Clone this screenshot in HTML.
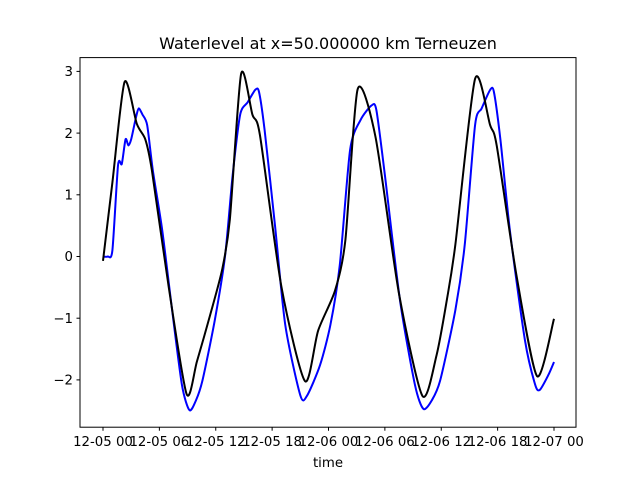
<!DOCTYPE html>
<html><head><meta charset="utf-8"><style>
body{margin:0;background:#fff}
svg{font-family:"DejaVu Sans","Liberation Sans",sans-serif}
</style></head><body>
<svg id="chart" width="640" height="480" viewBox="0 0 640 480" xmlns="http://www.w3.org/2000/svg">
<rect width="640" height="480" fill="#fff"/>
<text x="328" y="49" font-size="16" text-anchor="middle">Waterlevel at x=50.000000 km Terneuzen</text>
<g id="plot"></g>
<rect x="80" y="57.6" width="496" height="369.6" fill="none" stroke="#000" stroke-width="1"/>
<text x="328" y="467" font-size="13.3" text-anchor="middle">time</text>
</svg>
<script>
const xTickLabels=["12-05 00","12-05 06","12-05 12","12-05 18","12-06 00","12-06 06","12-06 12","12-06 18","12-07 00"];
const xTickHours=[0,6,12,18,24,30,36,42,48];
const yTicks=[-2,-1,0,1,2,3];
const blackHours=[0,1,2.3,3.6,4.5,5.2,7,8.9,10,11.4,12.7,13.5,14.7,15.9,16.7,19,21.5,22.9,24.7,25.8,27.1,29,31.5,34,35.5,36.6,37.5,39.6,41.2,41.9,44,46.2,48];
const blackValues=[-0.07,1.2,2.83,2.15,1.9,1.4,-0.5,-2.23,-1.7,-0.95,-0.2,0.6,2.96,2.3,1.97,-0.5,-2.02,-1.2,-0.55,0.27,2.71,1.94,-0.6,-2.26,-1.6,-0.7,0.19,2.88,2.13,1.8,-0.3,-1.94,-1.01];
const blueHours=[0,0.5,1,1.6,2,2.4,2.7,3,3.5,3.8,4.2,4.7,5.3,6.3,7.3,8.4,9.2,9.9,10.6,11.9,13,13.8,14.6,15.4,16.2,16.6,17.2,18.3,19.4,21,21.7,23.1,24.2,25.2,26.3,27.4,28.6,29.1,30,31.6,33.2,34.1,35,35.9,37.5,38.5,39.6,40.3,41.2,41.6,42.3,43.3,44.9,46,46.5,47.4,48];
const blueValues=[0,0,0.1,1.48,1.5,1.9,1.8,1.9,2.25,2.4,2.3,2.13,1.4,0.43,-0.8,-2.08,-2.49,-2.33,-2.0,-1.03,0.02,1.32,2.3,2.5,2.7,2.67,2.05,0.51,-1.11,-2.25,-2.26,-1.76,-1.11,-0.14,1.73,2.21,2.45,2.37,1.32,-0.7,-2.08,-2.47,-2.33,-2.0,-0.87,0.19,2.13,2.4,2.7,2.67,1.89,0.43,-1.35,-2.08,-2.16,-1.92,-1.71];

const X=h=>103+h*(451/48);
const Y=v=>256.5-v*61.7;
const NS="http://www.w3.org/2000/svg";
const g=document.getElementById('plot');
function mk(t,a){const e=document.createElementNS(NS,t);for(const k in a)e.setAttribute(k,a[k]);return e;}
xTickHours.forEach((h,i)=>{
  const l=mk('line',{x1:X(h),x2:X(h),y1:427.2,y2:430.7,stroke:'#000'});
  
  
  g.appendChild(l);
  const t=mk('text',{x:X(h),y:446,'font-size':13.3,'text-anchor':'middle'});
  
  
  t.textContent=xTickLabels[i];g.appendChild(t);
});
yTicks.forEach(v=>{
  const l=mk('line',{x1:76.5,x2:80,y1:Y(v),y2:Y(v),stroke:'#000'});
  
  
  g.appendChild(l);
  const t=mk('text',{x:73,y:Y(v)+4.7,'font-size':13.3,'text-anchor':'end'});
  
  
  t.textContent=v<0?'\u2212'+Math.abs(v):String(v);g.appendChild(t);
});
function smoothPath(hs,vs){
  const p=hs.map((h,i)=>[X(h),Y(vs[i])]);
  let d='M'+p[0][0]+','+p[0][1];
  for(let i=0;i<p.length-1;i++){
    const p0=p[i-1]||p[i],p1=p[i],p2=p[i+1],p3=p[i+2]||p2;
    const c1=[p1[0]+(p2[0]-p0[0])/8,p1[1]+(p2[1]-p0[1])/8];
    const c2=[p2[0]-(p3[0]-p1[0])/8,p2[1]-(p3[1]-p1[1])/8];
    d+=' C'+c1+' '+c2+' '+p2;
  }
  return d;
}
const bl=mk('path',{d:smoothPath(blueHours,blueValues),fill:'none',stroke:'#0000ff','stroke-width':2});


g.appendChild(bl);
const bk=mk('path',{d:smoothPath(blackHours,blackValues),fill:'none',stroke:'#000','stroke-width':2});


g.appendChild(bk);
</script>
</body></html>
